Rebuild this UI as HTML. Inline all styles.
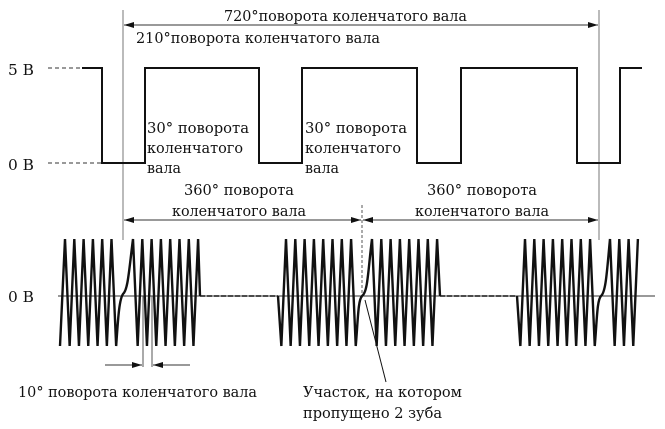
<!DOCTYPE html>
<html><head><meta charset="utf-8"><style>
html,body{margin:0;padding:0;background:#fff;}
svg{display:block;}
text{font-family:"DejaVu Serif","Liberation Serif",serif;font-size:15px;fill:#111;}
</style></head><body>
<svg width="665" height="429" viewBox="0 0 665 429" xmlns="http://www.w3.org/2000/svg">
<defs>
<marker id="a" markerWidth="10" markerHeight="6" refX="10" refY="3" orient="auto-start-reverse" markerUnits="userSpaceOnUse"><path d="M0,0 L10,3 L0,6 z" fill="#111"/></marker>
</defs>
<line x1="123" y1="10" x2="123" y2="240" stroke="#777" stroke-width="1"/>
<line x1="599" y1="10" x2="599" y2="240" stroke="#777" stroke-width="1"/>
<line x1="362" y1="205" x2="362" y2="300" stroke="#555" stroke-width="1" stroke-dasharray="3,2"/>
<line x1="124" y1="25" x2="598" y2="25" stroke="#333" stroke-width="1" marker-start="url(#a)" marker-end="url(#a)"/>
<text x="224" y="21" textLength="243" lengthAdjust="spacingAndGlyphs">720°поворота коленчатого вала</text>
<text x="136" y="43" textLength="244" lengthAdjust="spacingAndGlyphs">210°поворота коленчатого вала</text>
<text x="8" y="75" textLength="26" lengthAdjust="spacingAndGlyphs">5 В</text>
<text x="8" y="170" textLength="26" lengthAdjust="spacingAndGlyphs">0 В</text>
<line x1="48" y1="68" x2="82" y2="68" stroke="#333" stroke-dasharray="4,3"/>
<line x1="48" y1="163" x2="102" y2="163" stroke="#333" stroke-dasharray="4,3"/>
<polyline fill="none" stroke="#111" stroke-width="2" points="82,68 102,68 102,163 145,163 145,68 259,68 259,163 302,163 302,68 417,68 417,163 461,163 461,68 577,68 577,163 620,163 620,68 642,68"/>
<text x="147" y="133" textLength="102" lengthAdjust="spacingAndGlyphs">30° поворота</text>
<text x="147" y="153" textLength="96" lengthAdjust="spacingAndGlyphs">коленчатого</text>
<text x="147" y="173" textLength="34" lengthAdjust="spacingAndGlyphs">вала</text>
<text x="305" y="133" textLength="102" lengthAdjust="spacingAndGlyphs">30° поворота</text>
<text x="305" y="153" textLength="96" lengthAdjust="spacingAndGlyphs">коленчатого</text>
<text x="305" y="173" textLength="34" lengthAdjust="spacingAndGlyphs">вала</text>
<text x="184" y="195" textLength="110" lengthAdjust="spacingAndGlyphs">360° поворота</text>
<text x="172" y="216" textLength="134" lengthAdjust="spacingAndGlyphs">коленчатого вала</text>
<text x="427" y="195" textLength="110" lengthAdjust="spacingAndGlyphs">360° поворота</text>
<text x="415" y="216" textLength="134" lengthAdjust="spacingAndGlyphs">коленчатого вала</text>
<line x1="124" y1="220" x2="361" y2="220" stroke="#333" marker-start="url(#a)" marker-end="url(#a)"/>
<line x1="363" y1="220" x2="598" y2="220" stroke="#333" marker-start="url(#a)" marker-end="url(#a)"/>
<text x="8" y="302" textLength="26" lengthAdjust="spacingAndGlyphs">0 В</text>
<line x1="58" y1="296" x2="655" y2="296" stroke="#333" stroke-width="1"/>
<line x1="200" y1="296" x2="278" y2="296" stroke="#111" stroke-width="1.5" stroke-dasharray="5,2"/>
<line x1="440" y1="296" x2="517" y2="296" stroke="#111" stroke-width="1.5" stroke-dasharray="5,2"/>
<g fill="none" stroke="#111" stroke-width="2.4">
<path d="M60,346 L65,239 L69.65,346 L74.3,239 L78.95,346 L83.6,239 L88.25,346 L92.9,239 L97.55,346 L102.2,239 L106.85,346 L111.5,239 L116.15,346 C118,320 119,300 123,294 C128,290 129,270 133,239 L137.65,346 L142.3,239 L146.95,346 L151.6,239 L156.25,346 L160.9,239 L165.55,346 L170.2,239 L174.85,346 L179.5,239 L184.15,346 L188.8,239 L193.45,346 L198.1,239 L200,296"/>
<path d="M278,296 L281.35,346 L286,239 L290.65,346 L295.3,239 L299.95,346 L304.6,239 L309.25,346 L313.9,239 L318.55,346 L323.2,239 L327.85,346 L332.5,239 L337.15,346 L341.8,239 L346.45,346 L351.1,239 L355.75,346 C358,320 358,300 362,296 C368,292 368,270 372,239 L376.65,346 L381.3,239 L385.95,346 L390.6,239 L395.25,346 L399.9,239 L404.55,346 L409.2,239 L413.85,346 L418.5,239 L423.15,346 L427.8,239 L432.45,346 L437.1,239 L440,296"/>
<path d="M517,296 L520.35,346 L525,239 L529.65,346 L534.3,239 L538.95,346 L543.6,239 L548.25,346 L552.9,239 L557.55,346 L562.2,239 L566.85,346 L571.5,239 L576.15,346 L580.8,239 L585.45,346 L590.1,239 L594.75,346 C597,320 597,300 601,296 C606,292 607,270 610,239 L614.65,346 L619.3,239 L623.95,346 L628.6,239 L633.25,346 L637.9,239"/>
</g>
<line x1="143" y1="296" x2="143" y2="367" stroke="#555"/>
<line x1="152" y1="296" x2="152" y2="367" stroke="#555"/>
<line x1="105" y1="365" x2="142" y2="365" stroke="#333" marker-end="url(#a)"/>
<line x1="190" y1="365" x2="153" y2="365" stroke="#333" marker-end="url(#a)"/>
<text x="18" y="397" textLength="239" lengthAdjust="spacingAndGlyphs">10° поворота коленчатого вала</text>
<line x1="365" y1="300" x2="386" y2="382" stroke="#111" stroke-width="1"/>
<text x="303" y="397" textLength="159" lengthAdjust="spacingAndGlyphs">Участок, на котором</text>
<text x="303" y="418" textLength="139" lengthAdjust="spacingAndGlyphs">пропущено 2 зуба</text>
</svg>
</body></html>
